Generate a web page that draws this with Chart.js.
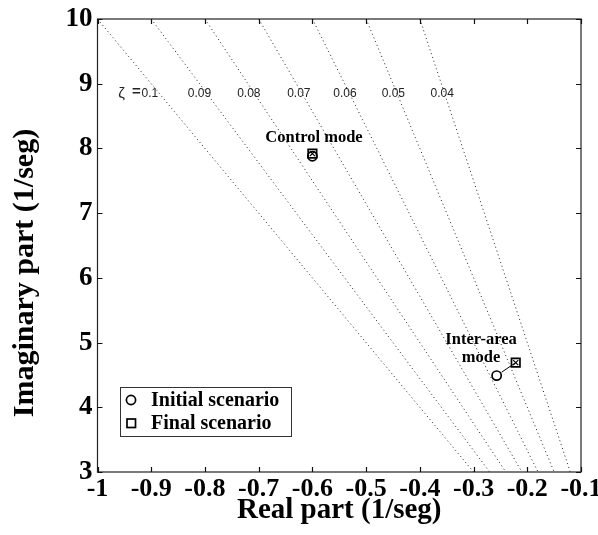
<!DOCTYPE html>
<html><head><meta charset="utf-8">
<script src="https://cdn.jsdelivr.net/npm/chart.js@4.4.0/dist/chart.umd.min.js"></script>
<style>html,body{margin:0;padding:0;background:#fff}#wrap{width:598px;height:535px;position:relative}</style>
</head><body><div id="wrap"><canvas id="c"></canvas></div>
<script>
// ---- data ----
const xTickValues = [-1, -0.9, -0.8, -0.7, -0.6, -0.5, -0.4, -0.3, -0.2, -0.1];
const yTickValues = [3, 4, 5, 6, 7, 8, 9, 10];
const dampingLabels = ['0.1', '0.09', '0.08', '0.07', '0.06', '0.05', '0.04'];
const dampingTopReal = [-1.0, -0.90, -0.80, -0.70, -0.60, -0.50, -0.40];
const dampingTopImag = [10, 10, 10, 10, 10, 10, 10];
const dampingBottomReal = [-0.30, -0.27, -0.24, -0.21, -0.18, -0.15, -0.12];
const dampingBottomImag = [3, 3, 3, 3, 3, 3, 3];
const dampingLabelReal = [-0.918, -0.832, -0.740, -0.647, -0.561, -0.471, -0.380];
const dampingLabelImag = [8.79, 8.79, 8.79, 8.79, 8.79, 8.79, 8.79];
const zetaSymbolReal = -0.9615;
const zetaEqualsReal = -0.936;
const modeLabelLines = [['Control mode'], ['Inter-area', 'mode']];
const modeLabelReal = [-0.597, -0.286];
const modeLabelImag = [[8.10], [4.98, 4.70]];
const initialReal = [-0.600, -0.257];
const initialImag = [7.88, 4.49];
const finalReal = [-0.600, -0.2215];
const finalImag = [7.92, 4.69];
const legendLabels = ['Initial scenario', 'Final scenario'];

// ---- build datasets ----
const datasets = [];
dampingLabels.forEach((z, i) => {
  datasets.push({
    label: 'zeta ' + z,
    data: [{x: dampingTopReal[i], y: dampingTopImag[i]}, {x: dampingBottomReal[i], y: dampingBottomImag[i]}],
    showLine: true, borderColor: '#222', borderWidth: 1, borderDash: [1, 3],
    pointRadius: 0, fill: false
  });
});
datasets.push({
  label: legendLabels[0],
  data: initialReal.map((x, i) => ({x, y: initialImag[i]})),
  pointStyle: 'circle', pointRadius: 4.6, pointBorderWidth: 1.7,
  pointBorderColor: '#000', pointBackgroundColor: 'rgba(0,0,0,0)', showLine: false
});
datasets.push({
  label: legendLabels[1],
  data: finalReal.map((x, i) => ({x, y: finalImag[i]})),
  pointStyle: 'rect', pointRadius: 6, pointBorderWidth: 1.7,
  pointBorderColor: '#000', pointBackgroundColor: 'rgba(0,0,0,0)', showLine: false
});
datasets.push({
  label: 'final-cross',
  data: finalReal.map((x, i) => ({x, y: finalImag[i]})),
  pointStyle: 'crossRot', pointRadius: 3.6, pointBorderWidth: 1.2,
  pointBorderColor: '#000', showLine: false
});

const serif = '"Liberation Serif", "Times New Roman", serif';
const sans = '"Liberation Sans", Arial, sans-serif';

const deco = {
  id: 'deco',
  beforeDraw(chart) {
    const ctx = chart.ctx;
    ctx.save(); ctx.fillStyle = '#fff'; ctx.fillRect(0, 0, chart.width, chart.height); ctx.restore();
  },
  afterDatasetsDraw(chart) {
    const ctx = chart.ctx, a = chart.chartArea, xs = chart.scales.x, ys = chart.scales.y;
    ctx.save();
    // frame
    ctx.strokeStyle = '#222'; ctx.lineWidth = 1.2;
    ctx.strokeRect(a.left, a.top, a.right - a.left, a.bottom - a.top);
    // inward ticks
    ctx.lineWidth = 1.2; ctx.strokeStyle = '#111';
    const tl = 5;
    xTickValues.forEach(v => {
      const px = Math.round(xs.getPixelForValue(v)) + 0.5;
      ctx.beginPath(); ctx.moveTo(px, a.bottom); ctx.lineTo(px, a.bottom - tl);
      ctx.moveTo(px, a.top); ctx.lineTo(px, a.top + tl); ctx.stroke();
    });
    yTickValues.forEach(v => {
      const py = Math.round(ys.getPixelForValue(v)) + 0.5;
      ctx.beginPath(); ctx.moveTo(a.left, py); ctx.lineTo(a.left + tl, py);
      ctx.moveTo(a.right, py); ctx.lineTo(a.right - tl, py); ctx.stroke();
    });
    // damping labels
    ctx.fillStyle = '#222'; ctx.textBaseline = 'alphabetic'; ctx.textAlign = 'left';
    ctx.font = '12px ' + sans;
    dampingLabels.forEach((z, i) => {
      ctx.fillText(z, xs.getPixelForValue(dampingLabelReal[i]), ys.getPixelForValue(dampingLabelImag[i]));
    });
    ctx.font = '15px ' + sans;
    ctx.fillText('\u03B6', xs.getPixelForValue(zetaSymbolReal), ys.getPixelForValue(dampingLabelImag[0]) + 1);
    ctx.font = 'bold 15px ' + sans;
    ctx.fillText('=', xs.getPixelForValue(zetaEqualsReal), ys.getPixelForValue(dampingLabelImag[0]) - 1);
    // mode labels
    ctx.fillStyle = '#000'; ctx.textAlign = 'center'; ctx.font = 'bold 16.5px ' + serif;
    modeLabelLines.forEach((lines, i) => {
      lines.forEach((t, j) => ctx.fillText(t, xs.getPixelForValue(modeLabelReal[i]), ys.getPixelForValue(modeLabelImag[i][j])));
    });
    // arrows from initial to final
    ctx.strokeStyle = '#000'; ctx.lineWidth = 1;
    initialReal.forEach((x0, i) => {
      const p0x = xs.getPixelForValue(x0), p0y = ys.getPixelForValue(initialImag[i]);
      const p1x = xs.getPixelForValue(finalReal[i]), p1y = ys.getPixelForValue(finalImag[i]);
      const dx = p1x - p0x, dy = p1y - p0y, d = Math.hypot(dx, dy);
      if (d < 12) return;
      const ux = dx / d, uy = dy / d;
      ctx.beginPath();
      ctx.moveTo(p0x + ux * 6, p0y + uy * 6); ctx.lineTo(p1x, p1y);
      ctx.stroke();
    });
    // legend box
    const lx = a.left + 22.5, ly = a.bottom - 85, lw = 171, lh = 49;
    ctx.fillStyle = '#fff'; ctx.fillRect(lx, ly, lw, lh);
    ctx.strokeStyle = '#333'; ctx.lineWidth = 1; ctx.strokeRect(lx + 0.5, ly + 0.5, lw, lh);
    ctx.lineWidth = 1.7; ctx.strokeStyle = '#000';
    ctx.beginPath(); ctx.arc(lx + 11, ly + 13, 4.6, 0, Math.PI * 2); ctx.stroke();
    ctx.strokeRect(lx + 7, ly + 32, 8.5, 8.5);
    ctx.fillStyle = '#000'; ctx.textAlign = 'left'; ctx.textBaseline = 'middle';
    ctx.font = 'bold 20px ' + serif;
    ctx.fillText(legendLabels[0], lx + 31, ly + 13.5);
    ctx.fillText(legendLabels[1], lx + 31, ly + 36.5);
    // axis titles
    ctx.textBaseline = 'alphabetic'; ctx.textAlign = 'center';
    ctx.font = 'bold 29px ' + serif;
    ctx.fillText('Real part (1/seg)', (a.left + a.right) / 2, 518);
    ctx.save();
    ctx.translate(33, 273); ctx.rotate(-Math.PI / 2);
    ctx.font = 'bold 30px ' + serif;
    ctx.fillText('Imaginary part (1/seg)', 0, 0);
    ctx.restore();
    ctx.restore();
  }
};

new Chart(document.getElementById('c'), {
  type: 'scatter',
  data: {datasets},
  options: {
    responsive: true, maintainAspectRatio: false, animation: false,
    layout: {padding: {top: 19, right: 17, left: 0, bottom: 0}},
    plugins: {legend: {display: false}, tooltip: {enabled: false}},
    scales: {
      x: {
        type: 'linear', min: -1, max: -0.1,
        afterBuildTicks: s => { s.ticks = xTickValues.map(v => ({value: v})); },
        afterFit: s => { s.height = 63; s.paddingLeft = 0; s.paddingRight = 0; },
        grid: {display: false, drawTicks: false},
        border: {display: false},
        ticks: {
          padding: 2, color: '#000', maxRotation: 0, autoSkip: false,
          font: {family: serif, size: 26, weight: 'bold'},
          callback: v => String(parseFloat(Number(v).toFixed(1)))
        }
      },
      y: {
        type: 'linear', min: 3, max: 10,
        afterBuildTicks: s => { s.ticks = yTickValues.map(v => ({value: v})); },
        afterFit: s => { s.width = 97.5; s.paddingTop = 0; s.paddingBottom = 0; },
        grid: {display: false, drawTicks: false},
        border: {display: false},
        ticks: {
          padding: 5, color: '#000', autoSkip: false,
          font: {family: serif, size: 27, weight: 'bold'},
          callback: v => String(v)
        }
      }
    }
  },
  plugins: [deco]
});
</script>
</body></html>
